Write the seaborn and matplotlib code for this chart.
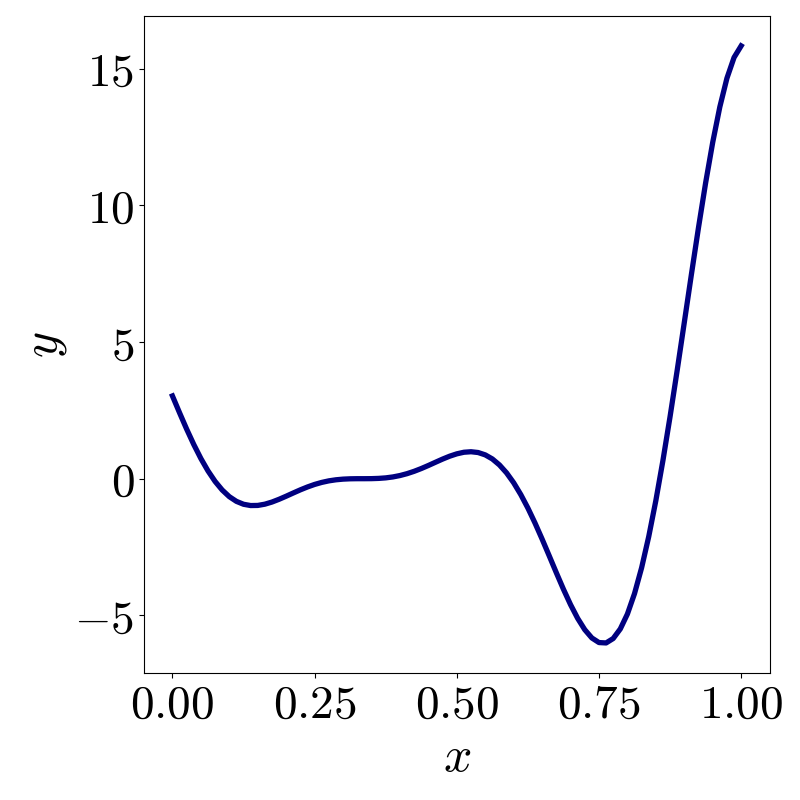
import matplotlib
matplotlib.use("Agg")
import matplotlib.pyplot as plt
from matplotlib.ticker import FuncFormatter
import seaborn as sns
import pandas as pd

x = [0.0, 0.0125, 0.025, 0.0375, 0.05, 0.0625, 0.075, 0.0875, 0.1, 0.1125,
     0.125, 0.1375, 0.15, 0.1625, 0.175, 0.1875, 0.2, 0.2125, 0.225, 0.2375,
     0.25, 0.2625, 0.275, 0.2875, 0.3, 0.3125, 0.325, 0.3375, 0.35, 0.3625,
     0.375, 0.3875, 0.4, 0.4125, 0.425, 0.4375, 0.45, 0.4625, 0.475, 0.4875,
     0.5, 0.5125, 0.525, 0.5375, 0.55, 0.5625, 0.575, 0.5875, 0.6, 0.6125,
     0.625, 0.6375, 0.65, 0.6625, 0.675, 0.6875, 0.7, 0.7125, 0.725, 0.7375,
     0.75, 0.7625, 0.775, 0.7875, 0.8, 0.8125, 0.825, 0.8375, 0.85, 0.8625,
     0.875, 0.8875, 0.9, 0.9125, 0.925, 0.9375, 0.95, 0.9625, 0.975, 0.9875,
     1.0]
y = [3.027, 2.411, 1.813, 1.251, 0.738, 0.286, -0.100, -0.414, -0.657, -0.829,
     -0.935, -0.982, -0.978, -0.932, -0.854, -0.753, -0.640, -0.522, -0.407, -0.302,
     -0.210, -0.136, -0.079, -0.040, -0.016, -0.004, -0.000, 0.000, 0.002, 0.011,
     0.030, 0.064, 0.115, 0.184, 0.270, 0.371, 0.483, 0.601, 0.717, 0.823,
     0.909, 0.967, 0.986, 0.957, 0.871, 0.722, 0.503, 0.213, -0.149, -0.581,
     -1.074, -1.621, -2.209, -2.821, -3.439, -4.042, -4.606, -5.107, -5.522, -5.825,
     -5.993, -6.007, -5.845, -5.494, -4.949, -4.201, -3.254, -2.115, -0.799, 0.673,
     2.272, 3.964, 5.712, 7.470, 9.187, 10.817, 12.303, 13.598, 14.648, 15.405,
     15.830]
xticks = [0.0, 0.25, 0.5, 0.75, 1.0]
yticks = [-5, 0, 5, 10, 15]

plt.rcParams["mathtext.fontset"] = "cm"

df = pd.DataFrame({"x": x, "y": y})

fig = plt.figure(figsize=(8, 8), dpi=100)
ax = fig.add_axes([0.180, 0.159, 0.782, 0.821])
sns.lineplot(data=df, x="x", y="y", color="navy", linewidth=3.8, ax=ax)

ax.set_xticks(xticks)
ax.set_yticks(yticks)
ax.xaxis.set_major_formatter(FuncFormatter(lambda v, p: "$%.2f$" % v))
ax.yaxis.set_major_formatter(FuncFormatter(lambda v, p: "$%d$" % v))
ax.tick_params(labelsize=34)
ax.set_xlabel("$x$", fontsize=36)
ax.set_ylabel("$y$", fontsize=36)

fig.savefig("out.png", dpi=100)
